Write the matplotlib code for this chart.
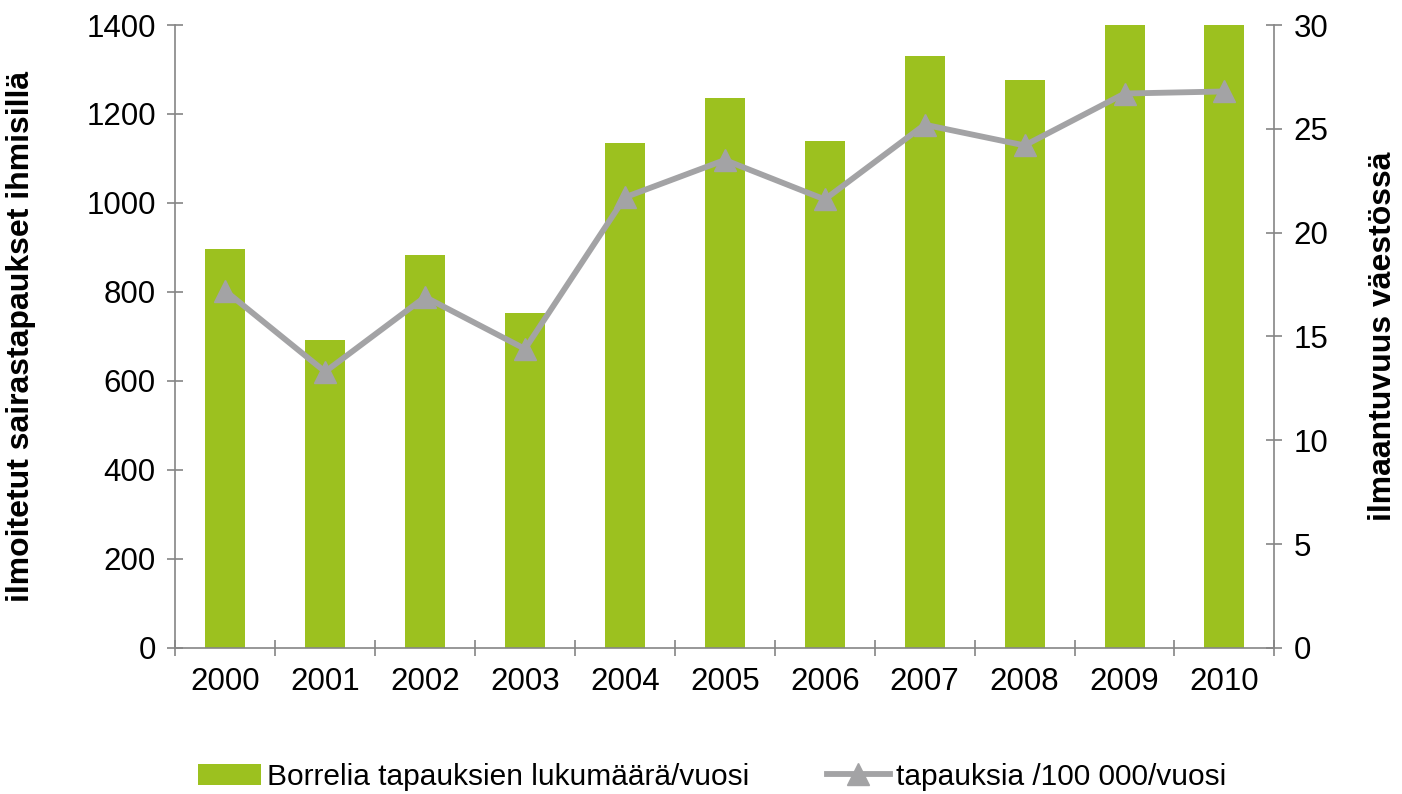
import matplotlib.pyplot as plt
import numpy as np

plt.rcParams['font.family'] = ['Liberation Sans', 'DejaVu Sans']

years = ['2000', '2001', '2002', '2003', '2004', '2005', '2006', '2007', '2008', '2009', '2010']
cases = [897, 692, 883, 753, 1135, 1236, 1139, 1330, 1276, 1423, 1430]
incidence = [17.2, 13.3, 16.9, 14.4, 21.7, 23.5, 21.6, 25.2, 24.2, 26.7, 26.8]

green = '#9cc11f'
grey = '#a3a3a5'
axis_col = '#858585'

fig = plt.figure(figsize=(14.02, 7.94), dpi=100)
ax = fig.add_axes([0.125, 0.184, 0.784, 0.7845])
ax2 = ax.twinx()

x = np.arange(len(years))
ax.bar(x, cases, width=0.4, color=green, zorder=2, label='Borrelia tapauksien lukumäärä/vuosi')
ax2.plot(x, incidence, color=grey, lw=4.2, marker='^', ms=16, zorder=3,
         label='tapauksia /100 000/vuosi')

ax.set_xlim(-0.5, len(years) - 0.5)
ax.set_ylim(0, 1400)
ax2.set_ylim(0, 30)
ax.set_yticks(range(0, 1401, 200))
ax2.set_yticks(range(0, 31, 5))
ax.set_xticks(x)
ax.set_xticklabels(years)
ax.set_xticks(np.arange(-0.5, len(years)), minor=True)

for a in (ax, ax2):
    for s in a.spines.values():
        s.set_color(axis_col)
        s.set_linewidth(1.2)
    a.spines['top'].set_visible(False)
ax.spines['right'].set_visible(False)
ax2.spines['left'].set_visible(False)
ax2.spines['bottom'].set_visible(False)

ax.tick_params(axis='y', direction='inout', length=12, width=1.2, color=axis_col, labelsize=22.5, pad=8)
ax2.tick_params(axis='y', direction='inout', length=12, width=1.2, color=axis_col, labelsize=22.5, pad=8)
ax.tick_params(axis='x', which='major', length=0, labelsize=22.5, pad=14)
ax.tick_params(axis='x', which='minor', direction='inout', length=12, width=1.2, color=axis_col)

ax.set_ylabel('ilmoitetut sairastapaukset ihmisillä', fontsize=23, fontweight='bold', labelpad=36)
ax2.set_ylabel('ilmaantuvuus väestössä', fontsize=23, fontweight='bold', labelpad=28)

h1, l1 = ax.get_legend_handles_labels()
h2, l2 = ax2.get_legend_handles_labels()
fig.legend(h1 + h2, l1 + l2, loc='lower center', bbox_to_anchor=(0.508, -0.03), ncol=2,
           frameon=False, fontsize=21.5, columnspacing=2.6, handlelength=2.1, handletextpad=0.2)

fig.savefig('out.png', dpi=100)
